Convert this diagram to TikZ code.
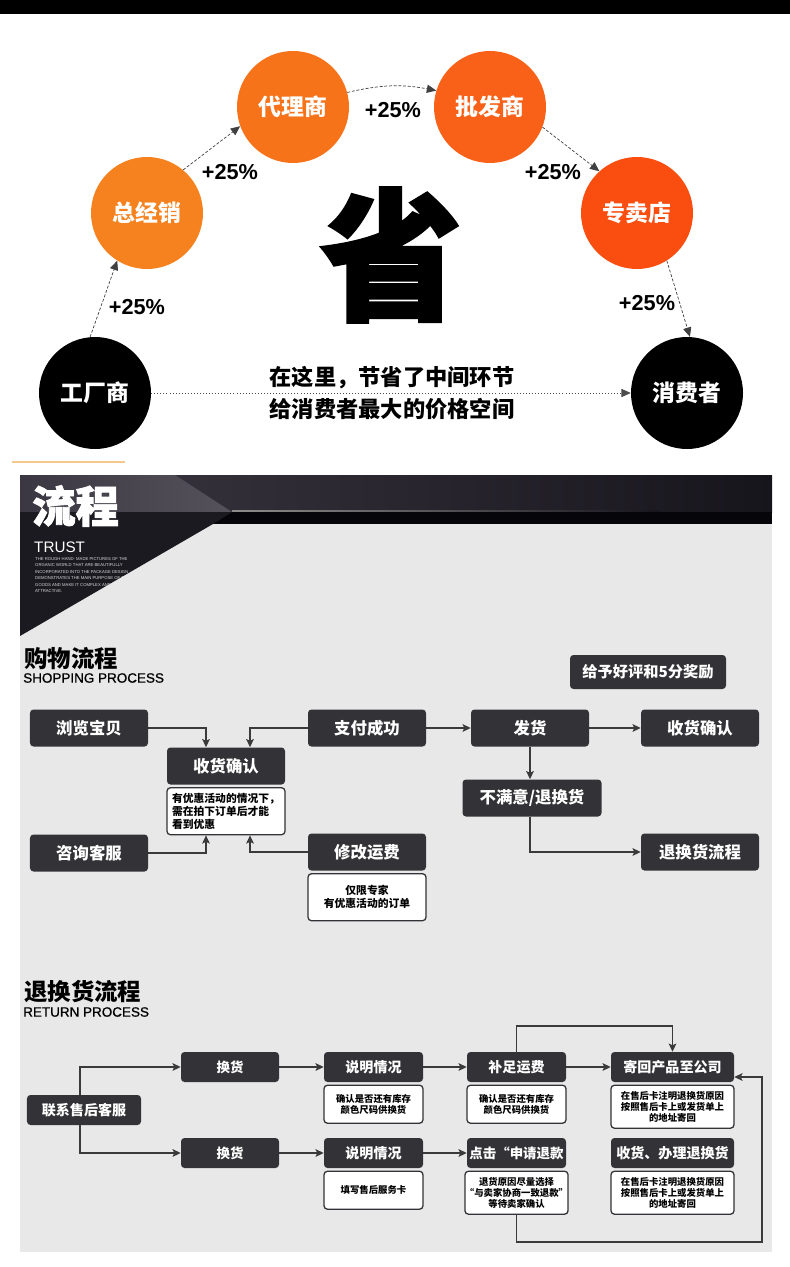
\documentclass[tikz,border=0pt]{standalone}
\usepackage{fontspec}
\setmainfont{Liberation Sans}
\newfontfamily\cjk{Noto Sans CJK SC}
\newfontfamily\cjkheavy{Noto Sans CJK SC}[BoldFeatures={FakeBold=2}]
\newfontfamily\semisans{Liberation Sans}[FakeBold=0.8]
\usetikzlibrary{arrows.meta, positioning, shapes.geometric, calc}

\definecolor{boxdark}{HTML}{333236}
\definecolor{linedark}{HTML}{3A3A3A}
\definecolor{panelgray}{HTML}{E8E8E8}
\definecolor{orA}{HTML}{F5821F}
\definecolor{orB}{HTML}{F7731A}
\definecolor{orC}{HTML}{F86117}
\definecolor{orD}{HTML}{F94E10}
\definecolor{bannerHi}{HTML}{56525B}
\definecolor{bannerL}{HTML}{3B3742}
\definecolor{bannerM}{HTML}{45404A}
\definecolor{bannerR}{HTML}{17151C}
\definecolor{bannerDark}{HTML}{1C1A21}
\definecolor{stripe}{HTML}{060509}
\definecolor{peach}{HTML}{F3C98E}

\newcommand{\fsz}[2]{\fontsize{#1}{#2}\selectfont}

\tikzset{
  stage/.style={circle, minimum size=3.36cm, inner sep=0pt, text=white, font=\cjk\bfseries\fsz{19.5}{22}},
  gain/.style={inner sep=0pt, font=\bfseries\fsz{18.5}{20}},
  hop/.style={draw=black!75, line width=0.6pt, dash pattern=on 2.5pt off 1.5pt, -{Triangle[length=8pt,width=7pt]}},
  procbox/.style={rectangle, fill=boxdark, rounded corners=3pt, text=white, minimum width=3.54cm, minimum height=1.11cm, inner sep=0pt, font=\cjk\bfseries\fsz{14}{16}},
  notebox/.style={rectangle, draw=boxdark, line width=1.1pt, fill=white, rounded corners=3pt, minimum width=3.54cm, inner sep=0pt, align=center, font=\cjk\bfseries\fsz{9.2}{11}},
  retbox/.style={procbox, minimum width=2.97cm, minimum height=0.9cm, font=\cjk\bfseries\fsz{12}{14}},
  retnote/.style={notebox, minimum width=2.97cm, font=\cjk\bfseries\fsz{8}{9.6}},
  flow/.style={draw=linedark, line width=1.3pt, -{Stealth[length=7pt,width=6.5pt,inset=1.5pt]}},
  heading/.style={anchor=west, inner sep=0pt, font=\cjk\bfseries\fsz{20}{22}},
  subheading/.style={anchor=west, inner sep=0pt, font=\semisans\fsz{11.5}{13}}
}

\begin{document}
\begin{tikzpicture}[x=0.03cm, y=-0.03cm]
\useasboundingbox (0,0) rectangle (790,1267);

% top part: the chain of middlemen
\fill[black] (0,0) rectangle (790,14);

\node[stage, fill=black] (factory) at (95,393) {工厂商};
\node[stage, fill=orA] (dist) at (147,213) {总经销};
\node[stage, fill=orB] (agent) at (293,107) {代理商};
\node[stage, fill=orC] (whole) at (490,107) {批发商};
\node[stage, fill=orD] (shop) at (637,213) {专卖店};
\node[stage, fill=black] (buyer) at (687,393) {消费者};

\node[gain] (g1) at (137,307) {+25\%};
\node[gain] (g2) at (230,172) {+25\%};
\node[gain] (g3) at (393,110) {+25\%};
\node[gain] (g4) at (553,172) {+25\%};
\node[gain] (g5) at (647,303) {+25\%};

\draw[hop] (factory.95) -- (dist.238);
\draw[hop] (dist.50) -- (agent.200);
\draw[hop] (agent.15) to[bend left=12] (whole.163);
\draw[hop] (whole.339) -- (shop.132);
\draw[hop] (shop.302) -- (buyer.87);

\node[inner sep=0pt, font=\cjkheavy\bfseries\fsz{121}{121}] (save) at (391,255) {省};
\node[align=center, inner sep=0pt, font=\cjk\bfseries\fsz{19}{28}] (slogan) at (392,393) {在这里，节省了中间环节\\给消费者最大的价格空间};
\draw[draw=black!70, line width=0.6pt, dotted, -{Triangle[length=8pt,width=7pt]}] (factory.east) -- (buyer.west);

\draw[peach, line width=1pt] (12,462) -- (125,462);

% banner and grey panel
\fill[panelgray] (20,512) rectangle (772,1252);
\shade[left color=bannerL, middle color=bannerM, right color=bannerR] (20,475) rectangle (772,512);
\shade[left color=bannerL, right color=bannerHi] (20,475) -- (175,475) -- (232,512) -- (20,512) -- cycle;
\shade[left color=black!45, right color=bannerR] (232,510) rectangle (660,513);
\fill[stripe] (213,512) rectangle (772,524);
\fill[bannerDark] (20,512) -- (232,512) -- (213,524) -- (20,636) -- cycle;

\node[anchor=west, inner sep=0pt, text=white, font=\cjkheavy\bfseries\fsz{37}{40}] (flowtitle) at (32,506) {流程};
\node[anchor=west, inner sep=0pt, text=white, font=\fsz{13}{14}] (trust) at (34,547) {TRUST};
\begin{scope}
  \clip (20,512) -- (232,512) -- (213,524) -- (20,636) -- cycle;
  \node[anchor=north west, align=left, inner sep=0pt, text=white!85!black, font=\fsz{3.6}{5.6}] (blurb) at (35,557)
    {THE ROUGH HAND- MADE PICTURES OF THE\\ORGANIC WORLD THAT ARE BEAUTIFULLY\\INCORPORATED INTO THE PACKAGE DESIGN\\DEMONSTRATES THE MAIN PURPOSE OF THE\\GOODS AND MAKE IT COMPLEX AND\\ATTRACTIVE.};
\end{scope}

% shopping process
\node[heading] (shophead) at (24,659) {购物流程};
\node[subheading] (shopsub) at (23,678) {SHOPPING PROCESS};

\node[procbox] (browse) at (89,728) {浏览宝贝};
\node[procbox] (pay) at (367,728) {支付成功};
\node[procbox] (recv) at (226,766) {收货确认};
\node[notebox, minimum height=1.41cm, align=left, below=2pt of recv] (recvnote) {有优惠活动的情况下，\\需在拍下订单后才能\\看到优惠};
\node[procbox] (consult) at (89,853) {咨询客服};
\node[procbox] (modify) at (367,852) {修改运费};
\node[notebox, minimum height=1.41cm, below=2pt of modify] (modnote) {仅限专家\\有优惠活动的订单};
\node[procbox] (ship) at (530,728) {发货};
\node[procbox] (got) at (700,728) {收货确认};
\node[procbox, minimum width=4.68cm, minimum height=1.02cm, font=\cjk\bfseries\fsz{13}{15}] (praise) at (648,672) {给予好评和5分奖励};
\node[procbox, minimum width=4.17cm] (unhappy) at (532,798) {不满意/退换货};
\node[procbox] (retflow) at (700,852) {退换货流程};

\draw[flow] (browse.east) -| ([xshift=-0.6cm]recv.north);
\draw[flow] (pay.west) -| ([xshift=0.72cm]recv.north);
\draw[flow] (consult.east) -| ([xshift=-0.6cm]recvnote.south);
\draw[flow] (modify.west) -| ([xshift=0.72cm]recvnote.south);
\draw[flow] (pay) -- (ship);
\draw[flow] (ship) -- (got);
\draw[flow] (ship.south) -- (ship.south |- unhappy.north);
\draw[flow] (ship.south |- unhappy.south) |- (retflow.west);

% return process
\node[heading] (rethead) at (24,992) {退换货流程};
\node[subheading] (retsub) at (23,1012) {RETURN PROCESS};

\node[retbox, minimum width=3.42cm] (contact) at (84,1110) {联系售后客服};
\node[retbox, minimum width=2.94cm, font=\cjk\bfseries\fsz{11.5}{13}] (swapA) at (230,1067) {换货};
\node[retbox, minimum width=2.94cm, font=\cjk\bfseries\fsz{11.5}{13}] (swapB) at (230,1153) {换货};
\node[retbox] (explainA) at (373.5,1067) {说明情况};
\node[retnote, minimum height=1.14cm, below=2pt of explainA] (explainAnote) {确认是否还有库存\\颜色尺码供换货};
\node[retbox] (explainB) at (373.5,1153) {说明情况};
\node[retnote, minimum height=1.14cm, below=2pt of explainB] (explainBnote) {填写售后服务卡};
\node[retbox] (topup) at (516.5,1067) {补足运费};
\node[retnote, minimum height=1.14cm, below=2pt of topup] (topupnote) {确认是否还有库存\\颜色尺码供换货};
\node[retbox, font=\cjk\bfseries\fsz{11.5}{13}] (refund) at (516.5,1153) {点击“申请退款};
\node[retnote, minimum height=1.29cm, below=2pt of refund] (refundnote) {退货原因尽量选择\\“与卖家协商一致退款”\\等待卖家确认};
\node[retbox, minimum width=3.69cm] (sendback) at (672.5,1067) {寄回产品至公司};
\node[retnote, minimum width=3.69cm, minimum height=1.29cm, below=2pt of sendback] (sendnote) {在售后卡注明退换货原因\\按照售后卡上或发货单上\\的地址寄回};
\node[retbox, minimum width=3.69cm] (finish) at (672.5,1153) {收货、办理退换货};
\node[retnote, minimum width=3.69cm, minimum height=1.29cm, below=2pt of finish] (finishnote) {在售后卡注明退换货原因\\按照售后卡上或发货单上\\的地址寄回};

\coordinate (loopR) at (762,1242);

\draw[flow] ([xshift=-0.12cm]contact.north) |- (swapA.west);
\draw[flow] ([xshift=-0.12cm]contact.south) |- (swapB.west);
\draw[flow] (swapA) -- (explainA);
\draw[flow] (swapB) -- (explainB);
\draw[flow] (explainA) -- (topup);
\draw[flow] (topup) -- (sendback);
\draw[flow] (explainB) -- (refund);
\draw[flow] (topup.north) -- ++(0,-26) -| (sendback.north);
\draw[flow] (refundnote.south) |- (loopR) |- ([yshift=-0.3cm]sendback.east);
\end{tikzpicture}
\end{document}
